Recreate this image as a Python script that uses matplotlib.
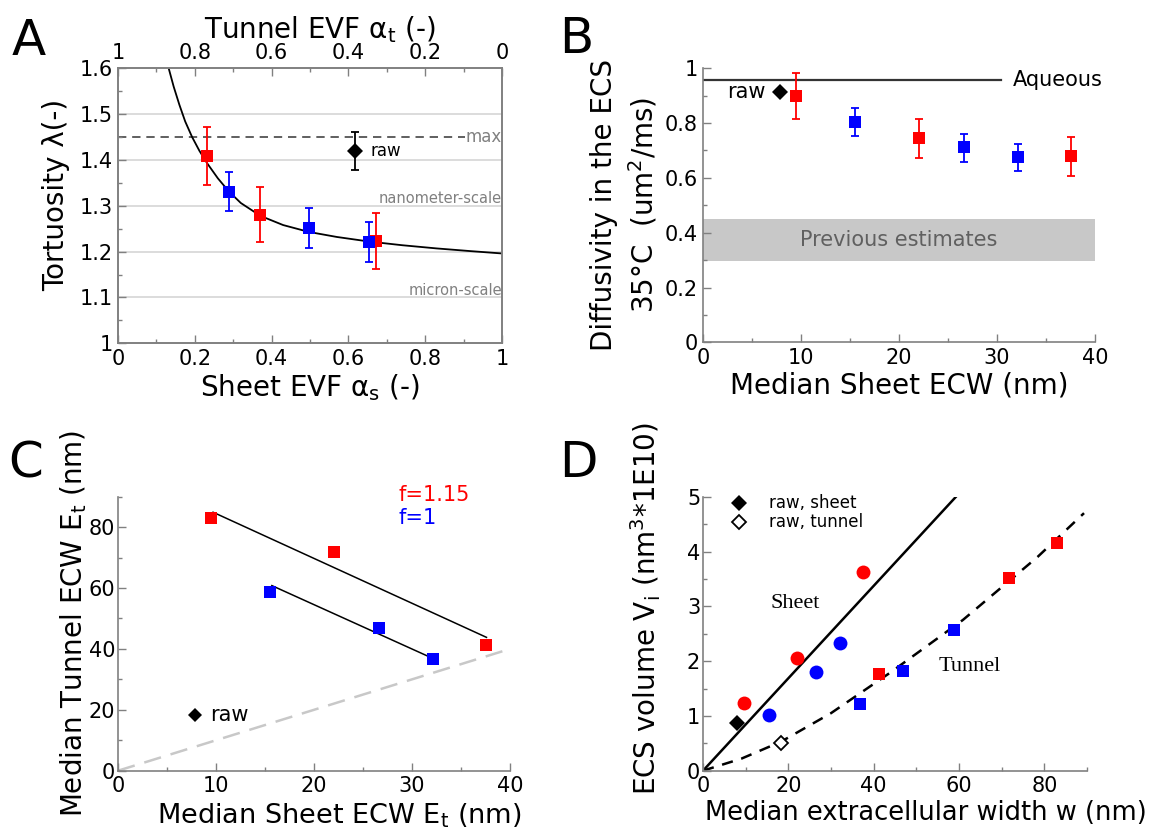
import matplotlib
matplotlib.use("Agg")
import matplotlib.pyplot as plt
from matplotlib.ticker import MultipleLocator, FuncFormatter

# ---------------- data ----------------
# Panel A: tortuosity vs sheet EVF
evf_red = [0.232, 0.371, 0.671]
tort_red = [1.409, 1.281, 1.223]
tort_red_lo = [1.345, 1.220, 1.162]
tort_red_hi = [1.473, 1.341, 1.284]
evf_blue = [0.289, 0.497, 0.654]
tort_blue = [1.331, 1.252, 1.220]
tort_blue_lo = [1.289, 1.209, 1.177]
tort_blue_hi = [1.373, 1.296, 1.264]
evf_raw = 0.616
tort_raw = 1.420
tort_raw_lo = 1.378
tort_raw_hi = 1.461
curve_evf = [0.132, 0.145, 0.160, 0.175, 0.193, 0.212, 0.232, 0.260, 0.289,
             0.320, 0.371, 0.430, 0.497, 0.570, 0.654, 0.740, 0.830, 0.920,
             1.000]
curve_tort = [1.600, 1.560, 1.520, 1.484, 1.450, 1.420, 1.393, 1.360, 1.331,
              1.306, 1.278, 1.258, 1.243, 1.232, 1.222, 1.214, 1.207, 1.201,
              1.196]
grid_levels = [1.1, 1.2, 1.3, 1.4, 1.5]
max_level = 1.45

# Shared widths (nm)
sheet_red = [9.5, 22.0, 37.5]
tunnel_red = [82.9, 71.7, 41.3]
sheet_blue = [15.5, 26.6, 32.1]
tunnel_blue = [58.8, 46.8, 36.7]
raw_sheet = 7.9
raw_tunnel = 18.3

# Panel B: diffusivity
diff_red = [0.900, 0.745, 0.679]
diff_red_lo = [0.816, 0.673, 0.608]
diff_red_hi = [0.984, 0.816, 0.749]
diff_blue = [0.804, 0.712, 0.675]
diff_blue_lo = [0.752, 0.659, 0.624]
diff_blue_hi = [0.855, 0.760, 0.724]
diff_raw = 0.914
aqueous = 0.959
aqueous_end = 30.4
prev_lo, prev_hi = 0.298, 0.450

# Panel C: fit lines
fit_red_x = [9.7, 37.6]
fit_red_y = [84.9, 43.8]
fit_blue_x = [15.7, 31.7]
fit_blue_y = [60.8, 37.5]
identity = [0, 40]

# Panel D: volumes (ordered like the width arrays above)
vol_sheet_red = [1.235, 2.06, 3.63]
vol_sheet_blue = [1.02, 1.795, 2.325]
vol_tunnel_red = [4.15, 3.52, 1.765]
vol_tunnel_blue = [2.57, 1.825, 1.22]
vol_raw_sheet = 0.865
vol_raw_tunnel = 0.51
sheet_line_x = [0, 59.3]
sheet_line_y = [0, 5.0]
tunnel_curve_x = [0, 9.0, 18.3, 30.0, 43.7, 60.9, 78.4, 89.3]
tunnel_curve_y = [0, 0.22, 0.53, 1.05, 1.78, 2.75, 3.90, 4.70]

RED = "#ff0000"
BLUE = "#0000ff"
SPINE = "#808080"

fig = plt.figure(figsize=(11.55, 8.32), dpi=100)

W, H = 1155.0, 832.0


def rect(l, r, t, b):
    return [l / W, 1 - b / H, (r - l) / W, (b - t) / H]


def style(ax, sides=("left", "bottom")):
    for s in ["left", "right", "top", "bottom"]:
        ax.spines[s].set_color(SPINE)
        ax.spines[s].set_linewidth(1.2)
        if s not in sides:
            ax.spines[s].set_visible(False)
    ax.tick_params(which="both", direction="in", color=SPINE, width=1,
                   labelsize=15, pad=4)
    ax.tick_params(which="major", length=6)
    ax.tick_params(which="minor", length=3)


gfmt = FuncFormatter(lambda v, p: "%g" % round(v, 6))


def errpoints(ax, x, y, lo, hi, color, marker="s", ms=9.3, z=3):
    ax.errorbar(x, y, yerr=[[a - b for a, b in zip(y, lo)],
                            [b - a for a, b in zip(y, hi)]],
                fmt="none", ecolor=color, elinewidth=1.3, capsize=3.2,
                capthick=1.3, zorder=z)
    ax.plot(x, y, marker, ms=ms, mew=0, color=color, zorder=z + 0.5,
            linestyle="none")


# ---------------- Panel A ----------------
axA = fig.add_axes(rect(118, 502, 68.3, 343.3))
style(axA, sides=("left", "bottom", "top", "right"))
axA.tick_params(right=False, top=False)
axA.set_xlim(0, 1)
axA.set_ylim(1, 1.6)
axA.xaxis.set_major_locator(MultipleLocator(0.2))
axA.xaxis.set_minor_locator(MultipleLocator(0.1))
axA.yaxis.set_major_locator(MultipleLocator(0.1))
axA.yaxis.set_minor_locator(MultipleLocator(0.05))
axA.xaxis.set_major_formatter(gfmt)
axA.yaxis.set_major_formatter(gfmt)
for g in grid_levels:
    axA.axhline(g, color="#d9d9d9", lw=1.3, zorder=0)
axA.plot([0, 0.903], [max_level, max_level], color="#444444", lw=1.2,
         dashes=(5, 3.5), zorder=1)
axA.text(1.0, max_level, "max", color="#808080", fontsize=12,
         ha="right", va="center")
axA.text(1.0, 1.299, "nanometer-scale", color="#808080", fontsize=10.5,
         ha="right", va="bottom")
axA.text(1.0, 1.099, "micron-scale", color="#808080", fontsize=10.5,
         ha="right", va="bottom")
axA.plot(curve_evf, curve_tort, color="black", lw=1.3, zorder=2)
errpoints(axA, evf_red, tort_red, tort_red_lo, tort_red_hi, RED, z=3)
errpoints(axA, evf_blue, tort_blue, tort_blue_lo, tort_blue_hi, BLUE, z=4)
errpoints(axA, [evf_raw], [tort_raw], [tort_raw_lo], [tort_raw_hi], "black",
          marker="D", ms=8, z=4)
axA.text(evf_raw + 0.042, tort_raw, "raw", fontsize=12, ha="left", va="center")
axA.set_xlabel("Sheet EVF α$_\\mathrm{s}$ (-)", fontsize=20)
axA.xaxis.set_label_coords(0.5, -0.105)
axA.set_ylabel("Tortuosity λ(-)", fontsize=20)
axA.yaxis.set_label_coords(-0.125, 0.54)

axT = axA.twiny()
axT.set_xlim(1, 0)
style(axT, sides=("left", "bottom", "top", "right"))
axT.tick_params(bottom=False, top=True, labelbottom=False, labeltop=True)
axT.xaxis.set_major_locator(MultipleLocator(0.2))
axT.xaxis.set_minor_locator(MultipleLocator(0.1))
axT.xaxis.set_major_formatter(gfmt)
axT.set_xlabel("Tunnel EVF α$_\\mathrm{t}$ (-)", fontsize=20)
axT.xaxis.set_label_coords(0.526, 1.11)

# ---------------- Panel B ----------------
axB = fig.add_axes(rect(703, 1095, 68.3, 342.3))
style(axB)
axB.set_xlim(0, 40)
axB.set_ylim(0, 1)
axB.xaxis.set_major_locator(MultipleLocator(10))
axB.xaxis.set_minor_locator(MultipleLocator(5))
axB.yaxis.set_major_locator(MultipleLocator(0.2))
axB.yaxis.set_minor_locator(MultipleLocator(0.1))
axB.xaxis.set_major_formatter(gfmt)
axB.yaxis.set_major_formatter(gfmt)
axB.axhspan(prev_lo, prev_hi, color="#c8c8c8", lw=0, zorder=0)
axB.text(20, (prev_lo + prev_hi) / 2, "Previous estimates", color="#606060",
         fontsize=15, ha="center", va="center")
axB.plot([0, aqueous_end], [aqueous, aqueous], color="#333333", lw=1.6)
axB.text(31.6, aqueous, "Aqueous", fontsize=15, ha="left", va="center",
         clip_on=False)
errpoints(axB, sheet_red, diff_red, diff_red_lo, diff_red_hi, RED)
errpoints(axB, sheet_blue, diff_blue, diff_blue_lo, diff_blue_hi, BLUE)
axB.plot([raw_sheet], [diff_raw], "D", ms=8, mew=0, color="black", zorder=4)
axB.text(6.4, diff_raw, "raw", fontsize=15, ha="right", va="center")
axB.set_xlabel("Median Sheet ECW (nm)", fontsize=20)
axB.xaxis.set_label_coords(0.5, -0.105)
axB.set_ylabel("Diffusivity in the ECS\n35°C  (um$^2$/ms)", fontsize=20,
               linespacing=1.35)
axB.yaxis.set_label_coords(-0.11, 0.5)

# ---------------- Panel C ----------------
axC = fig.add_axes(rect(118, 510, 496.7, 770.7))
style(axC)
axC.set_xlim(0, 40)
axC.set_ylim(0, 90)
axC.xaxis.set_major_locator(MultipleLocator(10))
axC.xaxis.set_minor_locator(MultipleLocator(5))
axC.yaxis.set_major_locator(MultipleLocator(20))
axC.yaxis.set_minor_locator(MultipleLocator(10))
axC.tick_params(axis="y", pad=2)
axC.plot(identity, identity, color="#c8c8c8", lw=1.8, dashes=(7, 4), zorder=1)
axC.plot(fit_red_x, fit_red_y, color="black", lw=1.1, zorder=2)
axC.plot(fit_blue_x, fit_blue_y, color="black", lw=1.1, zorder=2)
axC.plot(sheet_red, tunnel_red, "s", ms=9.3, mew=0, color=RED, zorder=3)
axC.plot(sheet_blue, tunnel_blue, "s", ms=9.3, mew=0, color=BLUE, zorder=3)
axC.plot([raw_sheet], [raw_tunnel], "D", ms=7, mew=0, color="black")
axC.text(9.4, raw_tunnel, "raw", fontsize=15, ha="left", va="center")
axC.text(28.6, 90.6, "f=1.15", color=RED, fontsize=15, ha="left",
         va="center", clip_on=False)
axC.text(28.6, 83.0, "f=1", color=BLUE, fontsize=15, ha="left", va="center")
axC.set_xlabel("Median Sheet ECW E$_\\mathrm{t}$ (nm)", fontsize=19.5)
axC.xaxis.set_label_coords(0.565, -0.112)
axC.set_ylabel("Median Tunnel ECW E$_\\mathrm{t}$ (nm)", fontsize=20)
axC.yaxis.set_label_coords(-0.074, 0.536)

# ---------------- Panel D ----------------
axD = fig.add_axes(rect(703, 1087, 496.7, 770.7))
style(axD)
axD.set_xlim(0, 90)
axD.set_ylim(0, 5)
axD.xaxis.set_major_locator(MultipleLocator(20))
axD.xaxis.set_minor_locator(MultipleLocator(10))
axD.yaxis.set_major_locator(MultipleLocator(1))
axD.yaxis.set_minor_locator(MultipleLocator(0.5))
axD.tick_params(axis="y", pad=2)
axD.plot(sheet_line_x, sheet_line_y, color="black", lw=1.8, zorder=1)
axD.plot(tunnel_curve_x, tunnel_curve_y, color="black", lw=1.8,
         dashes=(4.5, 3.5), zorder=1)
axD.plot(sheet_red, vol_sheet_red, "o", ms=10, mew=0, color=RED, zorder=3)
axD.plot(sheet_blue, vol_sheet_blue, "o", ms=10, mew=0, color=BLUE, zorder=3)
axD.plot(tunnel_red, vol_tunnel_red, "s", ms=9.3, mew=0, color=RED, zorder=3)
axD.plot(tunnel_blue, vol_tunnel_blue, "s", ms=9.3, mew=0, color=BLUE, zorder=3)
axD.plot([raw_sheet], [vol_raw_sheet], "D", ms=8, mew=0, color="black",
         zorder=4)
axD.plot([raw_tunnel], [vol_raw_tunnel], "D", ms=7, mew=1.3, mfc="white",
         mec="black", zorder=4)
axD.plot([8.5], [4.88], "D", ms=8, mew=0, color="black", clip_on=False)
axD.plot([8.5], [4.54], "D", ms=7, mew=1.3, mfc="white", mec="black")
axD.text(15.5, 4.88, "raw, sheet", fontsize=12, ha="left", va="center")
axD.text(15.5, 4.54, "raw, tunnel", fontsize=12, ha="left", va="center")
axD.text(15.8, 3.05, "Sheet", fontsize=16, family="Liberation Serif",
         ha="left", va="center")
axD.text(55.2, 1.90, "Tunnel", fontsize=16, family="Liberation Serif",
         ha="left", va="center")
axD.set_xlabel("Median extracellular width w (nm)", fontsize=18.5)
axD.xaxis.set_label_coords(0.58, -0.107)
axD.set_ylabel("ECS volume V$_\\mathrm{i}$ (nm$^3$*1E10)", fontsize=20)
axD.yaxis.set_label_coords(-0.104, 0.59)

# ---------------- panel letters ----------------
for lx, ly, s in [(12, 55, "A"), (559, 53, "B"), (8, 478, "C"), (559, 477, "D")]:
    fig.text(lx / W, 1 - ly / H, s, fontsize=36, ha="left", va="baseline")

fig.savefig("out.png", dpi=100)
